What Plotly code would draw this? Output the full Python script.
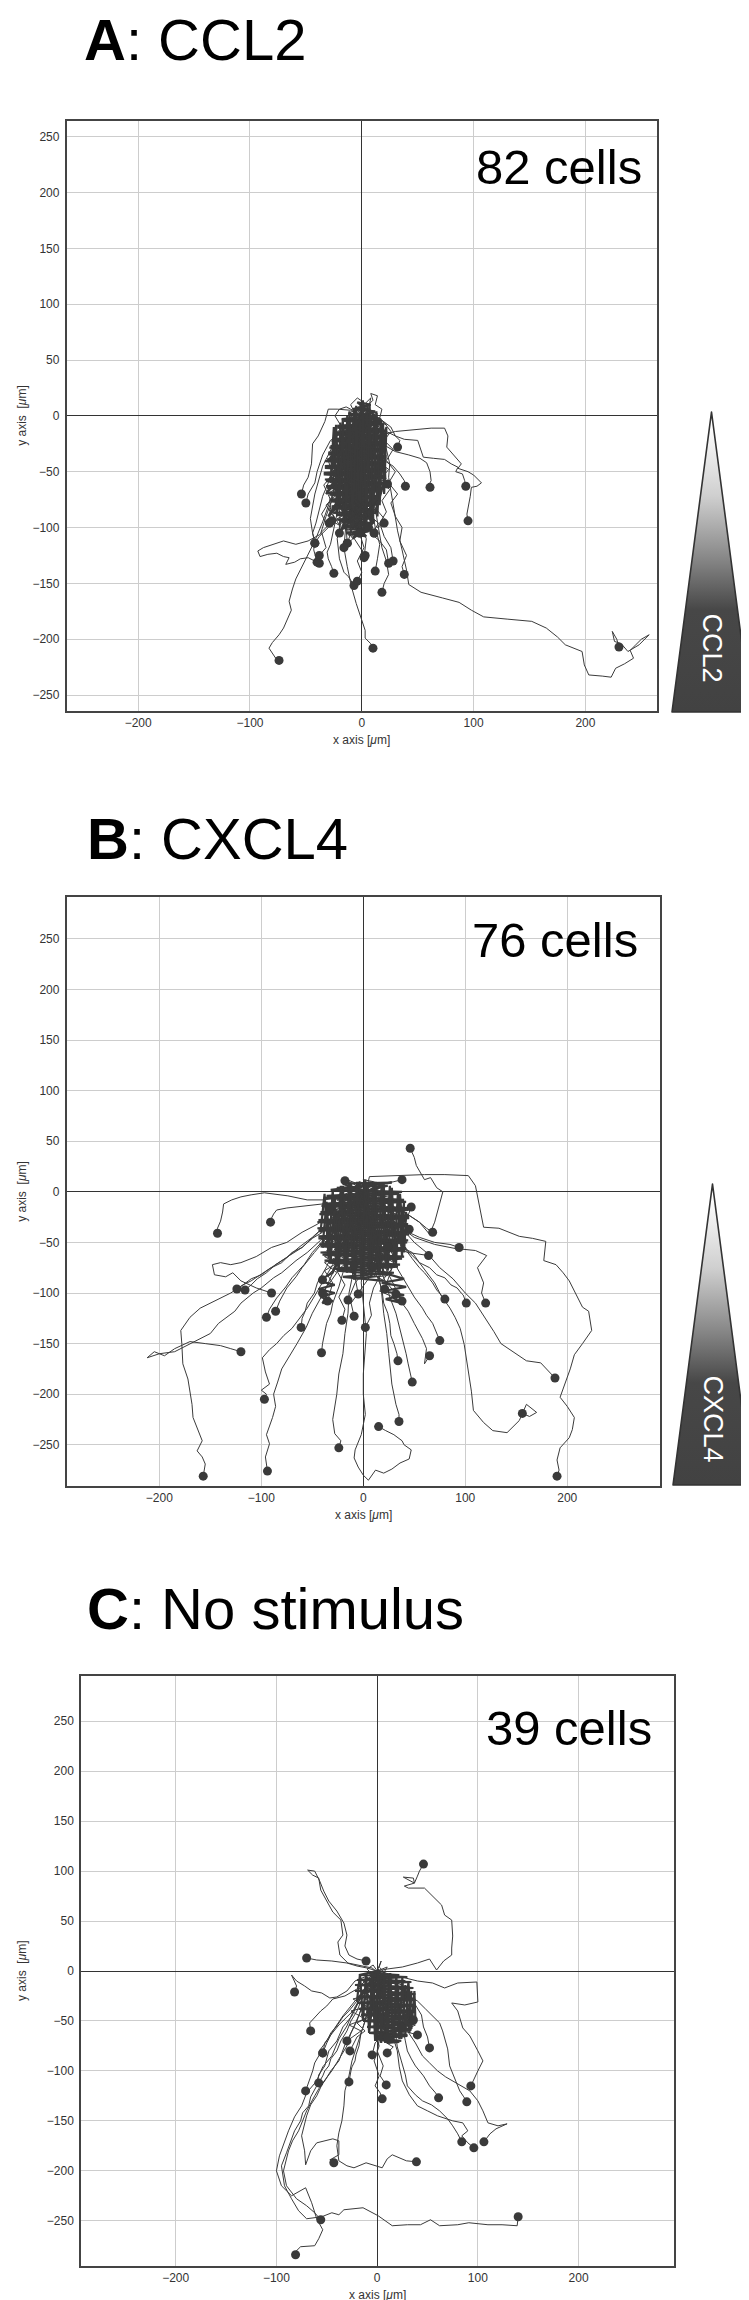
import base64
import plotly.graph_objects as go

W, H = 749, 2300

# Each track is a flat list x0, y0, x1, y1, ... in micrometres; the last point is the cell's end position.
CCL2_TRACKS = [
    [0,0, 5,-8, 12,-15, 18,-22, 22,-30, 25,-43, 24,-55, 27,-73, 29,-88, 32,-103, 36,-120, 40,-138, 42,-151, 53,-158, 72,-163, 87,-167, 98,-174, 109,-180, 130,-182, 152,-184, 165,-190, 175,-198, 182,-205, 197,-211, 199,-223, 203,-232, 215,-233, 223,-234, 227,-226, 235,-222, 243,-217, 240,-210, 245,-205, 250,-200, 257,-196, 248,-205, 238,-211, 232,-204, 226,-202, 224,-193, 228,-200, 230,-207],
    [0,0, 8,-6, 14,-12, 22,-16, 30,-14, 40,-13, 49,-12, 62,-11, 74,-11, 77,-18, 76,-28, 83,-36, 89,-43, 86,-47, 95,-50, 100,-53, 107,-60, 103,-63, 98,-64, 97,-72, 96,-78, 94,-88, 95,-94],
    [0,0, 12,-8, 22,-14, 30,-18, 38,-21, 50,-22, 53,-30, 55,-37, 64,-38, 74,-39, 80,-43, 86,-46, 84,-50, 90,-52, 92,-58, 93,-63],
    [0,0, 8,-12, 18,-25, 30,-32, 42,-35, 52,-38, 58,-42, 61,-50, 62,-58, 60,-62, 64,-66, 61,-64],
    [0,0, -3,-12, 6,-22, 12,-35, 20,-40, 28,-45, 34,-52, 38,-58, 39,-63],
    [0,0, 10,-6, 18,-4, 26,-10, 30,-18, 34,-22, 32,-28],
    [0,0, -8,-18, -14,-35, -20,-55, -28,-75, -35,-95, -42,-112, -50,-128, -56,-140, -59,-146, -62,-155, -65,-166, -63,-174, -67,-184, -70,-190, -74,-196, -80,-203, -83,-208, -80,-213, -77,-217, -74,-219],
    [0,0, -6,-20, -15,-45, -25,-70, -32,-90, -37,-106, -48,-112, -59,-115, -70,-112, -80,-115, -88,-118, -93,-121, -91,-126, -84,-124, -76,-123, -70,-126, -65,-127, -68,-133, -60,-131, -55,-128, -48,-127, -42,-130, -38,-132],
    [0,0, -4,-20, -8,-45, -10,-70, -14,-95, -16,-118, -13,-135, -9,-154, -5,-168, -1,-181, 3,-192, 3,-199, 8,-204, 10,-208],
    [0,0, -4,-15, -8,-25, -10,-40, -14,-55, -16,-70, -20,-85, -19,-98, -22,-110, -21,-120, -20,-128, -16,-140, -12,-144, -10,-147, -7,-152],
    [0,0, 6,-20, 4,-45, 10,-70, 14,-95, 18,-118, 22,-130, 24,-142, 20,-150, 18,-158],
    [0,0, -3,-25, 5,-50, 8,-75, 12,-100, 16,-115, 14,-128, 12,-139],
    [0,0, 3,-20, -4,-45, 2,-70, -2,-95, 4,-110, 2,-127],
    [0,0, -8,-20, -10,-32, -14,-45, -16,-58, -20,-70, -21,-82, -24,-95, -26,-105, -28,-115, -31,-122, -30,-128, -27,-135, -25,-141],
    [0,0, -10,-15, -22,-35, -26,-48, -30,-60, -35,-72, -38,-85, -41,-96, -44,-105, -42,-112, -43,-120, -40,-131],
    [0,0, -12,-10, -25,-25, -35,-45, -42,-70, -46,-92, -44,-105, -42,-114],
    [0,0, -10,5, -22,6, -30,6, -33,-5, -39,-18, -44,-25, -45,-43, -48,-55, -52,-62, -54,-70],
    [0,0, -8,-8, -18,-15, -28,-22, -35,-35, -40,-50, -42,-60, -48,-70, -50,-78],
    [0,0, -10,-20, -18,-40, -24,-60, -28,-80, -29,-96],
    [0,0, -5,-30, -12,-60, -10,-85, -14,-100, -13,-114],
    [0,0, -6,-5, 3,-11, -8,-16, 5,-24, -10,-30, 2,-37, -12,-44, 6,-50, -9,-57, 4,-64, -14,-70, 2,-77, -10,-84, 5,-90, -6,-97, -2,-105],
    [0,0, 5,-6, -4,-12, 9,-18, -2,-25, 12,-31, 0,-38, 14,-45, -3,-52, 10,-58, -5,-66, 13,-72, 0,-80, 11,-87, -2,-94, 8,-100, 11,-105],
    [0,0, -3,8, 4,3, -8,-4, 2,-10, -14,-18, -4,-26, -18,-33, -6,-40, -20,-48, -8,-55, -22,-62, -10,-70, -24,-78, -12,-86, -20,-95, -20,-105],
    [0,0, 8,5, 3,-4, 15,-10, 6,-18, 18,-24, 8,-32, 20,-40, 6,-48, 17,-55, 4,-62, 15,-70, 2,-78, 12,-86, 0,-92, 6,-100],
    [0,0, -10,-3, -4,-12, -16,-20, -6,-28, -22,-36, -10,-44, -26,-52, -12,-60, -28,-68, -14,-76, -30,-84, -18,-90, -29,-96],
    [0,0, 2,10, 8,16, 6,6, 12,0, 0,-8, 10,-16, -4,-22, 8,-30, -6,-38, 6,-46, -8,-54, 4,-62, -10,-70, 3,-78, -6,-85, 0,-92, -8,-100, -13,-114],
    [0,0, -5,6, -12,2, -2,-6, -16,-12, -6,-22, -20,-28, -8,-36, -18,-46, -4,-54, -16,-62, -2,-70, -14,-80, -4,-88, -18,-96, -8,-110, -16,-118],
    [0,0, 6,-4, -2,-10, 10,-14, 2,-22, 16,-28, 4,-34, 18,-42, 8,-50, 22,-56, 10,-62, 23,-61],
    [0,0, -4,-8, 6,-16, -6,-24, 8,-30, -4,-38, 10,-46, -2,-54, 12,-62, 0,-70, 14,-78, 2,-86, 12,-94, 4,-100, 11,-105],
    [0,0, -8,-10, 0,-20, -12,-28, -2,-36, -14,-44, 0,-52, -12,-60, 2,-68, -10,-76, 0,-84, -12,-92, -4,-98, -2,-105],
    [0,0, 4,-12, -6,-20, 6,-28, -8,-36, 4,-42, -10,-50, 2,-58, -12,-66, 0,-74, -14,-82, -2,-90, -16,-98, -8,-108, 3,-125],
    [0,0, 4,8, 10,14, 8,20, 14,18, 12,10, 18,6, 16,-2, 22,-8, 14,-5],
    [0,0, -6,4, -14,8, -20,6, -24,0, -18,-10, -26,-20, -22,-30, -30,-40, -26,-52, -34,-62, -28,-75, -36,-88, -30,-100, -38,-108, -42,-114],
    [0,0, 10,-2, 20,-6, 26,-14, 20,-22, 28,-30, 22,-40, 30,-50, 24,-60, 32,-70, 26,-78, 30,-90, 36,-100, 34,-112, 40,-125, 36,-135, 38,-142],
    [0,0, 6,6, 14,2, 10,-8, 18,-14, 12,-24, 22,-30, 14,-40, 24,-48, 16,-58, 25,-66, 18,-76, 22,-86, 16,-96, 20,-108, 26,-118, 28,-130],
    [0,0, -2,-15, 4,-30, -3,-45, 5,-60, -4,-75, 6,-90, -2,-105, 2,-118, -4,-130, 0,-140, -4,-148],
    [0,0, -12,-5, -18,-15, -10,-25, -24,-32, -16,-45, -28,-55, -20,-68, -32,-80, -24,-92, -36,-104, -32,-118, -38,-125],
    [0,0, 3,-5, -5,-15, 7,-22, -3,-32, 9,-40, -1,-50, 11,-58, 1,-68, 13,-76, 3,-86, 15,-96, 9,-106, 16,-112, 22,-120, 24,-132],
    [0,0, -3,4, 2,12, -4,16, -10,10, -6,2, -14,-4, -10,-14, -18,-22, -12,-34, -22,-44, -14,-56, -24,-66, -16,-78, -26,-88, -20,-98, -27,-94],
    [0,0, 8,-8, 14,-20, 6,-32, 16,-44, 8,-56, 18,-68, 10,-80, 20,-92, 14,-100, 20,-96],
]

# cells that wander densely around the origin (dark core)
CCL2_CORE = [
    [0,0, -12,2, 12,0, -18,-3, 18,-6, -22,-9, 20,-12, -24,-15, 21,-18, -26,-21, 22,-24, -28,-27, 20,-30, -30,-33, 22,-36, -31,-39, 21,-42, -33,-45, 22,-48, -34,-51, 20,-54, -33,-57, 19,-60, -32,-63, 18,-66, -31,-69, 16,-72, -29,-75, 14,-78, -27,-81, 12,-84, -25,-87, 10,-90, -22,-93, 9,-96, -18,-99, 8,-102, -14,-105, 4,-108],
    [0,0, 12,4, -8,6, 8,10, -4,12, 14,-1.5, -16,-4.5, 20,-7.5, -22,-10.5, 22,-13.5, -25,-16.5, 21,-19.5, -27,-22.5, 22,-25.5, -29,-28.5, 21,-31.5, -30,-34.5, 22,-37.5, -33,-40.5, 20,-43.5, -33,-46.5, 21,-49.5, -34,-52.5, 20,-55.5, -32,-58.5, 18,-61.5, -31,-64.5, 17,-67.5, -29,-70.5, 15,-73.5, -28,-76.5, 13,-79.5, -26,-82.5, 11,-85.5, -23,-88.5, 10,-91.5, -20,-94.5, 8,-97.5, -16,-100.5, 6,-103.5, -12,-106.5, -2,-105],
    [0,0, -28,-60, -25,-10, -22,-90, -19,-6, -16,-100, -13,0, -10,-104, -7,6, -4,-108, -1,12, 2,-106, 5,10, 8,-100, 11,2, 14,-90, 17,-4, 20,-70, 22,-10, 6,-92],
    [0,0, -30,-40, 10,-2, -32,-70, 18,-10, -30,-90, 20,-40, -20,-104, 16,-70, -8,-110, 10,-96, -26,-50, 14,-20, -18,-84, 4,-108],
    [0,0, -26,-45, -23,-8, -20,-80, -17,-3, -14,-96, -11,4, -8,-102, -5,9, -2,-106, 1,14, 4,-102, 7,10, 10,-96, 13,4, 16,-80, 19,-8, 21,-55, 12,-88],
]

CXCL4_TRACKS = [
    [0,0, 4,6, 6,15, 30,16, 60,17, 80,17, 103,16, 110,6, 113,-10, 116,-25, 118,-35, 133,-36, 153,-44, 166,-46, 179,-49, 177,-68, 189,-72, 196,-80, 202,-88, 208,-100, 215,-114, 221,-118, 223,-131, 224,-137, 215,-150, 207,-161, 203,-175, 198,-190, 193,-203, 200,-212, 207,-223, 205,-235, 202,-243, 193,-253, 190,-265, 192,-275, 190,-281],
    [0,0, -10,-12, -18,-16, -25,-25, -32,-30, -40,-40, -50,-46, -60,-55, -70,-60, -80,-70, -92,-76, -100,-82, -110,-86, -118,-92, -130,-100, -146,-108, -160,-115, -170,-124, -176,-132, -179,-137, -178,-150, -177,-170, -172,-185, -170,-197, -168,-210, -167,-223, -162,-235, -158,-246, -163,-256, -158,-262, -155,-269, -157,-281],
    [0,0, -12,-20, -20,-26, -30,-40, -42,-48, -55,-60, -66,-68, -80,-80, -88,-85, -100,-95, -108,-100, -120,-110, -126,-118, -135,-125, -142,-130, -150,-140, -170,-150, -185,-158, -200,-160, -212,-164, -205,-158, -195,-162, -185,-155, -170,-148, -155,-150, -140,-152, -130,-155, -120,-158],
    [0,0, -15,-4, -38,-8, -55,-8, -74,-4, -90,-2, -97,-1, -110,-3, -120,-5, -129,-8, -137,-12, -138,-20, -140,-29, -143,-36, -143,-41],
    [0,0, -20,-10, -40,-12, -60,-14, -75,-16, -85,-18, -88,-22, -90,-26, -91,-30],
    [0,0, -10,-30, -16,-42, -25,-60, -30,-72, -40,-90, -46,-100, -55,-115, -62,-124, -70,-135, -78,-142, -85,-150, -92,-156, -99,-164, -96,-178, -92,-190, -100,-196, -95,-200, -97,-205],
    [0,0, -15,-40, -20,-58, -30,-80, -38,-98, -50,-120, -56,-134, -65,-150, -72,-162, -80,-175, -84,-188, -88,-200, -86,-212, -89,-223, -95,-240, -92,-249, -96,-262, -94,-276],
    [0,0, -5,-40, -8,-60, -10,-80, -14,-100, -15,-120, -18,-140, -20,-160, -24,-180, -26,-200, -30,-225, -28,-239, -22,-246, -24,-253],
    [0,0, 2,-40, -2,-90, 3,-140, 0,-180, 0,-200, 2,-220, -2,-240, -8,-255, -9,-263, -5,-272, 0,-280, 5,-285, 12,-275, 20,-278, 28,-274, 36,-268, 45,-264, 47,-255, 40,-250, 38,-246, 30,-240, 22,-236, 15,-232],
    [0,0, 10,-40, 12,-60, 15,-80, 18,-100, 20,-120, 23,-140, 25,-160, 28,-190, 32,-210, 35,-220, 35,-227],
    [0,0, 20,-30, 30,-40, 45,-60, 55,-70, 70,-90, 76,-102, 85,-115, 90,-124, 95,-135, 99,-151, 103,-175, 106,-197, 108,-216, 118,-228, 127,-236, 141,-238, 153,-226, 160,-210, 170,-218, 163,-222, 156,-219],
    [0,0, 25,-25, 36,-34, 50,-50, 62,-60, 75,-75, 88,-86, 100,-100, 110,-110, 120,-125, 128,-138, 135,-150, 150,-160, 160,-167, 174,-169, 181,-177, 188,-184],
    [0,0, 20,-10, 40,-20, 55,-30, 65,-42, 70,-30, 75,-12, 78,0, 72,4, 66,14, 60,12, 57,17, 52,26, 50,34, 46,43],
    [0,0, 30,-30, 50,-45, 70,-52, 90,-56, 110,-58, 121,-63, 112,-75, 118,-90, 116,-100, 120,-110],
    [0,0, 20,-20, 40,-38, 55,-45, 70,-50, 85,-52, 94,-55],
    [0,0, 20,-10, 40,-20, 55,-30, 62,-36, 68,-40],
    [0,0, 12,-22, 22,-35, 30,-42, 38,-55, 48,-60, 55,-70, 65,-75, 72,-82, 80,-85, 86,-92, 92,-95, 96,-100, 98,-102, 101,-110],
    [0,0, 8,-14, 20,-30, 26,-40, 34,-48, 40,-55, 48,-66, 55,-75, 60,-80, 68,-90, 72,-97, 75,-100, 80,-106],
    [0,0, 6,-18, 15,-40, 20,-52, 30,-70, 36,-80, 45,-95, 50,-104, 58,-115, 62,-122, 68,-130, 72,-140, 75,-147],
    [0,0, 5,-20, 12,-40, 16,-62, 24,-80, 30,-92, 38,-110, 44,-118, 50,-130, 54,-138, 58,-145, 62,-155, 60,-170, 65,-162],
    [0,0, 2,-20, 5,-40, 10,-58, 12,-80, 18,-95, 20,-110, 24,-120, 26,-130, 27,-142, 30,-150, 33,-160, 34,-167],
    [0,0, 4,-25, 10,-50, 14,-70, 22,-90, 26,-104, 32,-120, 36,-135, 40,-150, 42,-160, 44,-170, 46,-180, 48,-188],
    [0,0, -8,-15, -15,-30, -20,-44, -30,-60, -36,-74, -45,-90, -48,-100, -55,-110, -57,-118, -60,-125, -61,-134],
    [0,0, -4,-20, -10,-40, -14,-58, -20,-80, -24,-94, -30,-110, -32,-120, -36,-130, -38,-140, -40,-150, -41,-159],
    [0,0, -10,-12, -20,-25, -28,-36, -40,-50, -48,-60, -60,-75, -66,-84, -75,-95, -79,-102, -82,-108, -86,-118],
    [0,0, -12,-16, -25,-30, -36,-44, -50,-60, -58,-72, -70,-85, -76,-94, -85,-105, -88,-110, -92,-116, -95,-124],
    [0,0, -14,-14, -30,-30, -44,-40, -60,-55, -74,-64, -90,-75, -100,-82, -110,-88, -118,-92, -124,-96],
    [0,0, -12,-8, -25,-20, -38,-34, -50,-45, -62,-54, -75,-65, -86,-72, -95,-80, -104,-86, -110,-92, -116,-97],
    [0,0, -30,-20, -45,-32, -60,-40, -75,-50, -90,-55, -105,-64, -120,-70, -130,-72, -140,-70, -148,-72, -146,-82, -135,-84, -128,-80, -120,-88, -105,-95, -90,-100],
    [0,0, -5,5, -10,8, -14,10, -18,11],
    [0,0, 10,4, 20,8, 30,10, 38,12],
    [0,0, -10,-5, 4,-10, -16,-14, 8,-20, -20,-26, 12,-30, -24,-36, 6,-42, -18,-48, 14,-54, -10,-60, 20,-64, -6,-70, 10,-74],
    [0,0, 12,4, -6,-2, 20,-8, -12,-12, 26,-18, -4,-24, 30,-30, 0,-36, 34,-42, 4,-48, 28,-54, 8,-60, 30,-64, 24,-54],
    [0,0, -14,6, -4,-4, -26,-8, -10,-16, -32,-22, -14,-30, -36,-36, -18,-44, -40,-50, -20,-58, -38,-64, -24,-72, -40,-87],
    [0,0, 6,10, 18,8, 10,-2, 28,-6, 14,-14, 34,-20, 18,-28, 38,-34, 20,-42, 40,-48, 22,-56, 36,-46, 45,-37],
    [0,0, -6,8, -16,12, -8,2, -22,-4, -6,-12, -28,-18, -10,-26, -30,-34, -12,-42, -32,-50, -14,-58, -28,-66, -12,-72, -9,-73],
    [0,0, 4,-8, -8,-14, 10,-20, -6,-28, 14,-34, -4,-42, 18,-48, 0,-56, 22,-62, 6,-70, 24,-54],
    [0,0, -10,4, -20,2, -26,-6, -33,-17],
    [0,0, 16,-2, 4,-10, 22,-14, 8,-22, 30,-26, 12,-34, 32,-40, 14,-48, 34,-54, 16,-62, 30,-70, 21,-96],
    [0,0, -4,10, 8,6, -8,-2, 6,-10, -12,-16, 2,-24, -16,-30, 0,-38, -18,-44, 2,-52, -16,-58, 4,-66, -10,-74, -5,-101],
    [0,0, 10,-6, -2,-14, 16,-18, 2,-26, 20,-32, 4,-40, 24,-46, 6,-54, 26,-60, 10,-68, 28,-76, 20,-86, 32,-101],
    [0,0, -8,-6, -20,-10, -10,-20, -26,-26, -14,-34, -34,-40, -20,-50, -36,-58, -22,-68, -38,-78, -30,-90, -35,-108],
    [0,0, 6,4, 0,12, 10,10, 20,4, 14,-4, 28,-10, 20,-18, 36,-24, 26,-30, 40,-34, 47,-15],
    [0,0, -4,-10, 8,-18, -2,-28, 12,-36, 0,-46, 16,-54, 4,-64, 20,-72, 10,-82, 24,-90, 16,-98, 38,-108],
    [0,0, -12,-2, -4,-8, -18,-14, -6,-22, -24,-28, -8,-36, -26,-44, -10,-52, -30,-60, -14,-68, -26,-78, -18,-92, -24,-104, -18,-116, -21,-127],
    [0,0, 8,-2, 2,-12, 14,-16, 6,-26, 18,-30, 8,-40, 22,-44, 10,-54, 24,-58, 12,-68, 18,-80, 10,-95, 6,-110, 8,-122, 2,-134],
    [0,0, 4,8, -8,6, -4,-2, -14,-8, 0,-14, -18,-20, 2,-28, -20,-34, 4,-42, -18,-48, 6,-56, -14,-62, 8,-70, -8,-90, -15,-107],
    [0,0, 18,6, 8,-4, 26,-8, 12,-16, 30,-22, 16,-30, 38,-34, 20,-42, 42,-46, 26,-54, 44,-60, 64,-63],
    [0,0, -6,-4, 6,-8, -8,-16, 8,-22, -10,-30, 10,-36, -12,-44, 12,-50, -8,-58, 14,-64, -4,-70, 12,-76, -2,-96, -12,-110, -9,-123],
    [0,0, -16,2, -6,-6, -24,-10, -8,-18, -28,-22, -10,-30, -30,-36, -12,-44, -30,-52, -16,-60, -38,-70, -26,-80, -40,-100],
]

CXCL4_CORE = [
    [0,0, -20,8, 28,9, -32,2, 38,0, -36,-4, 40,-8, -40,-12, 44,-16, -42,-20, 45,-24, -44,-28, 44,-32, -45,-36, 45,-40, -44,-44, 44,-48, -43,-52, 42,-56, -42,-60, 40,-64, -38,-68, 36,-72, -30,-76, 30,-80, -20,-84, 20,-88],
    [0,0, 24,6, -26,4, 34,-2, -38,-6, 42,-10, -41,-14, 44,-18, -43,-22, 45,-26, -45,-30, 44,-34, -44,-38, 45,-42, -44,-46, 43,-50, -42,-54, 41,-58, -40,-62, 38,-66, -34,-70, 34,-74, -26,-78, 24,-82, -10,-86],
    [0,0, -40,-55, -36,-10, -32,-70, -28,-4, -24,-78, -20,6, -16,-80, -12,8, -8,-84, -4,10, 0,-86, 4,10, 8,-84, 12,10, 16,-80, 20,8, 24,-78, 28,4, 32,-72, 36,-2, 40,-60, 42,-20, 30,-64],
    [0,0, -42,-40, -38,-2, -34,-66, -30,2, -26,-74, -22,6, -18,-78, -14,8, -10,-82, -6,10, -2,-84, 2,12, 6,-82, 10,10, 14,-80, 18,8, 22,-76, 26,6, 30,-70, 34,0, 38,-64, 40,-10, 35,-50],
    [0,0, 20,-80, 40,-86, 18,-90, 42,-94, 20,-98, 40,-102, 22,-106, 38,-110, 28,-104],
    [0,0, -30,-80, -44,-88, -28,-92, -44,-96, -28,-100, -42,-104, -30,-108, -40,-110, -35,-100],
]

NOSTIM_TRACKS = [
    [0,0, 10,2, 25,4, 40,8, 52,12, 59,1, 66,10, 74,16, 74,23, 75,35, 74,51, 67,56, 64,66, 58,72, 54,76, 47,83, 31,83, 27,85, 37,88, 36,93, 26,94, 37,88, 40,95, 42,100, 46,107],
    [0,0, 5,-5, -5,3, -15,5, -29,8, -37,16, -39,29, -34,36, -36,51, -44,59, -52,73, -56,81, -58,93, -64,96, -69,101, -62,100, -57,90, -53,80, -48,70, -40,60, -33,48, -30,36, -32,25, -28,16, -20,12, -11,10],
    [0,0, -10,3, -20,5, -30,8, -45,10, -60,11, -70,13],
    [0,0, 20,-5, 40,-10, 55,-12, 67,-17, 80,-12, 99,-11, 100,-31, 87,-34, 74,-32, 80,-40, 85,-57, 92,-65, 100,-80, 105,-90, 100,-100, 96,-108, 93,-115],
    [0,0, -10,-20, -18,-30, -25,-45, -34,-56, -40,-70, -48,-80, -52,-95, -58,-104, -60,-115, -66,-126, -68,-135, -74,-142, -76,-150, -82,-160, -86,-170, -90,-182, -95,-195, -92,-215, -85,-228, -78,-240, -70,-248, -55,-246, -45,-242, -38,-244, -33,-239, -14,-237, 1,-245, 15,-255, 30,-254, 43,-254, 53,-249, 62,-255, 80,-254, 91,-252, 110,-254, 124,-254, 139,-255, 140,-246],
    [0,0, -15,-25, -22,-36, -30,-55, -38,-68, -45,-85, -54,-96, -60,-110, -70,-122, -75,-135, -82,-146, -88,-160, -92,-172, -97,-185, -100,-200, -95,-215, -85,-225, -71,-217, -65,-232, -60,-248, -54,-259, -58,-268, -62,-275, -76,-276, -81,-281, -84,-286, -81,-284],
    [0,0, -12,-30, -18,-44, -25,-60, -32,-74, -38,-90, -46,-100, -52,-110, -58,-118, -62,-125, -66,-132, -70,-140, -74,-150, -78,-160, -84,-170, -88,-180, -93,-200, -90,-215, -80,-228, -70,-235, -62,-242, -56,-249],
    [0,0, -10,-25, -16,-38, -20,-50, -26,-62, -30,-75, -38,-88, -45,-100, -54,-112, -60,-125, -66,-134, -70,-145, -75,-165, -72,-180, -71,-194, -66,-180, -60,-172, -52,-170, -44,-168, -38,-170, -38,-184, -45,-188, -47,-189, -43,-192],
    [0,0, -5,-30, -10,-44, -15,-60, -20,-75, -25,-90, -28,-105, -32,-120, -33,-135, -35,-150, -38,-162, -40,-175, -38,-190, -30,-195, -23,-197, -11,-192, 5,-197, 10,-188, 15,-184, 22,-187, 29,-190, 39,-191],
    [0,0, 15,-30, 22,-44, 30,-60, 38,-72, 45,-85, 52,-92, 60,-100, 68,-106, 75,-110, 84,-116, 92,-120, 100,-130, 105,-140, 110,-152, 120,-155, 129,-153, 118,-158, 112,-163, 106,-171],
    [0,0, 10,-40, 14,-60, 20,-80, 22,-96, 25,-110, 32,-124, 40,-135, 50,-140, 60,-145, 75,-150, 85,-152, 90,-160, 84,-165, 90,-172, 96,-177],
    [0,0, 8,-30, 12,-44, 18,-60, 20,-76, 24,-90, 28,-104, 30,-115, 38,-124, 45,-130, 54,-134, 62,-140, 70,-148, 75,-155, 80,-163, 84,-171],
    [0,0, -6,-6, 4,-12, -8,-18, 6,-24, -6,-30, 8,-36, -4,-42, 10,-48, -2,-54, 12,-60, 2,-66, 5,-66],
    [0,0, 6,-4, -2,-10, 12,-14, 2,-22, 16,-26, 4,-34, 20,-38, 8,-46, 24,-50, 14,-56, 24,-56],
    [0,0, -4,6, -10,2, -2,-6, -14,-10, -4,-18, -16,-24, -6,-32, -18,-38, -8,-46, -20,-52, -12,-60, -20,-66, -27,-80],
    [0,0, 10,4, 4,-6, 18,-10, 8,-18, 22,-24, 10,-32, 26,-36, 14,-44, 30,-48, 18,-54, 36,-49],
    [0,0, -8,-2, 2,-10, -10,-14, 4,-22, -8,-28, 6,-36, -6,-42, 8,-50, -4,-56, 6,-64, -2,-72, -5,-84],
    [0,0, 4,10, 2,4, 8,-2, -2,-8, 12,-12, 0,-20, 14,-26, 2,-32, 16,-38, 4,-46, 18,-52, 8,-58, 20,-62, 12,-68],
    [0,0, 14,-6, 6,-14, 24,-18, 10,-26, 28,-30, 14,-38, 34,-42, 18,-50, 38,-54, 26,-60, 40,-64],
    [0,0, -12,-4, -4,-12, -20,-16, -8,-24, -24,-28, -10,-36, -26,-40, -12,-48, -28,-54, -16,-60, -30,-70],
    [0,0, 2,-8, -6,-14, 8,-20, -4,-28, 10,-34, 0,-42, 12,-48, 2,-56, 14,-62, 6,-70, 16,-76, 10,-82],
    [0,0, -3,-4, 5,-10, -5,-16, 7,-20, -3,-26, 9,-32, -1,-38, 11,-44, 1,-50, 13,-56, 3,-60, 10,-66],
    [0,0, -10,-5, -22,-10, -30,-20, -40,-26, -47,-27, -55,-22, -65,-20, -72,-15, -80,-10, -85,-4, -80,-15, -82,-21],
    [0,0, -12,-10, -20,-18, -32,-25, -44,-28, -50,-35, -56,-40, -62,-46, -67,-52, -66,-60],
    [0,0, -8,-14, -16,-26, -22,-38, -30,-46, -38,-54, -46,-64, -52,-72, -54,-82],
    [0,0, 12,-8, 24,-14, 32,-24, 38,-34, 44,-44, 46,-56, 50,-66, 52,-77],
    [0,0, 10,-20, 14,-32, 18,-40, 22,-52, 26,-60, 28,-70, 30,-80, 34,-88, 38,-95, 46,-105, 52,-115, 58,-122, 61,-127],
    [0,0, 20,-15, 30,-24, 40,-30, 48,-38, 55,-45, 62,-52, 65,-60, 68,-70, 70,-78, 72,-95, 78,-110, 82,-120, 86,-126, 89,-131],
    [0,0, 2,-20, -2,-40, 4,-60, 0,-80, 6,-95, 3,-105, 9,-114],
    [0,0, -4,-30, 2,-45, -2,-60, 2,-75, -3,-90, 2,-105, -2,-115, 3,-122, 5,-128],
    [0,0, -4,-12, -6,-25, -10,-38, -12,-50, -16,-62, -18,-75, -21,-84, -22,-90, -25,-96, -26,-100, -28,-111],
    [0,0, -6,-12, -10,-20, -16,-30, -20,-40, -26,-50, -30,-60, -36,-70, -40,-80, -46,-88, -48,-95, -52,-100, -54,-105, -58,-112],
    [0,0, -8,-12, -14,-20, -20,-30, -28,-40, -34,-46, -40,-55, -46,-62, -50,-70, -56,-78, -58,-85, -62,-92, -64,-100, -66,-106, -68,-112, -71,-120],
    [0,0, -10,-15, -22,-30, -34,-45, -44,-60, -50,-72, -54,-82],
]

NOSTIM_CORE = [
    [0,0, -10,-2, 22,-4, -12,-8, 28,-10, -12,-14, 32,-16, -12,-20, 34,-22, -10,-26, 36,-28, -10,-32, 36,-34, -8,-38, 38,-40, -8,-44, 38,-46, -6,-50, 36,-52, -4,-56, 34,-58, -2,-62, 30,-64, 2,-68, 24,-70],
    [0,0, -8,-60, -4,-6, 0,-70, 4,-4, 8,-72, 12,-6, 16,-70, 20,-10, 24,-68, 28,-14, 32,-62, 34,-20, 30,-56],
    [0,0, -18,-4, 30,-6, -20,-9, 34,-11, -22,-14, 36,-17, -22,-20, 38,-23, -20,-26, 38,-29, -20,-32, 38,-35, -18,-38, 38,-41, -16,-44, 38,-47, -14,-50, 36,-53, -10,-56, 34,-59, -8,-62, 30,-65, -2,-68, 22,-71, 10,-72],
    [0,0, -20,-30, -17,-3, -14,-50, -11,-2, -8,-62, -5,0, -2,-70, 1,2, 4,-72, 7,0, 10,-72, 13,-2, 16,-70, 19,-4, 22,-68, 25,-6, 28,-64, 31,-10, 34,-58, 37,-20, 38,-50],
]

X_TICKS = [-200, -100, 0, 100, 200]
Y_TICKS = [-250, -200, -150, -100, -50, 0, 50, 100, 150, 200, 250]

panels = [
    dict(tracks=CCL2_TRACKS, core=CCL2_CORE, title="<b>A</b>: CCL2", count="82 cells", wedge="CCL2",
         xr=(-264, 264), yr=(-264, 264), box=(58.6, 649.0, 113.0, 702.7),
         title_xy=(74, 32), count_xy=(636, 159), wedge_box=(663, 744, 403, 705)),
    dict(tracks=CXCL4_TRACKS, core=CXCL4_CORE, title="<b>B</b>: CXCL4", count="76 cells", wedge="CXCL4",
         xr=(-291, 291), yr=(-291, 291), box=(58.6, 652.0, 889.3, 1478.3),
         title_xy=(77, 830), count_xy=(632, 932), wedge_box=(664, 745, 1175, 1478)),
    dict(tracks=NOSTIM_TRACKS, core=NOSTIM_CORE, title="<b>C</b>: No stimulus", count="39 cells", wedge=None,
         xr=(-294, 295), yr=(-295, 295), box=(73.0, 666.3, 1668.3, 2257.7),
         title_xy=(77, 1600), count_xy=(646, 1720), wedge_box=None),
]

LINE = "#3b3b3b"
FONT = "Liberation Sans, Arial, sans-serif"


def wedge_svg(w, h):
    svg = (
        f'<svg xmlns="http://www.w3.org/2000/svg" width="{w}" height="{h}" viewBox="0 0 {w} {h}" preserveAspectRatio="none">'
        '<defs><linearGradient id="g" x1="0" y1="0" x2="0" y2="1">'
        '<stop offset="0.04" stop-color="#ffffff"/><stop offset="0.28" stop-color="#cfcfcf"/>'
        '<stop offset="0.48" stop-color="#8a8a8a"/><stop offset="0.66" stop-color="#474747"/>'
        '<stop offset="1" stop-color="#424242"/></linearGradient></defs>'
        f'<polygon points="{w / 2},1 {w - 1},{h - 1} 1,{h - 1}" fill="url(#g)" stroke="#333333" stroke-width="1.6" stroke-linejoin="round"/>'
        '</svg>'
    )
    return "data:image/svg+xml;base64," + base64.b64encode(svg.encode()).decode()


def flatten(tracks):
    xs, ys = [], []
    for t in tracks:
        xs += t[0::2] + [None]
        ys += t[1::2] + [None]
    return xs, ys


fig = go.Figure()
annotations = []
images = []

for i, p in enumerate(panels, start=1):
    sx = "" if i == 1 else str(i)
    xs, ys = flatten(p["tracks"])
    cxs, cys = flatten(p["core"])
    ex = [t[-2] for t in p["tracks"]]
    ey = [t[-1] for t in p["tracks"]]
    fig.add_trace(go.Scatter(x=cxs, y=cys, mode="lines", xaxis="x" + sx, yaxis="y" + sx,
                             line=dict(color=LINE, width=2.2), hoverinfo="skip", showlegend=False))
    fig.add_trace(go.Scatter(x=xs, y=ys, mode="lines", xaxis="x" + sx, yaxis="y" + sx,
                             line=dict(color=LINE, width=1), hoverinfo="skip", showlegend=False))
    fig.add_trace(go.Scatter(x=ex, y=ey, mode="markers", xaxis="x" + sx, yaxis="y" + sx,
                             marker=dict(color="#3a3a3a", size=9, symbol="circle"), showlegend=False))

    l, r, t_, b = p["box"]
    common = dict(showgrid=True, gridcolor="#cdcdcd", gridwidth=1, zeroline=True, zerolinecolor="#333333",
                  zerolinewidth=1, showline=True, linecolor="#444444", linewidth=1.5, mirror=True, ticks="",
                  tickfont=dict(family=FONT, size=12, color="#333333"), fixedrange=True)
    fig.update_layout(**{
        "xaxis" + sx: dict(domain=[l / W, r / W], range=list(p["xr"]), tickvals=X_TICKS,
                           anchor="y" + sx, **common),
        "yaxis" + sx: dict(domain=[1 - b / H, 1 - t_ / H], range=list(p["yr"]), tickvals=Y_TICKS,
                           anchor="x" + sx, ticklabelstandoff=3, **common),
    })

    # panel heading and cell count
    tx, ty = p["title_xy"]
    annotations.append(dict(text=p["title"], x=tx / W, y=1 - ty / H, xref="paper", yref="paper",
                            xanchor="left", yanchor="middle", showarrow=False,
                            font=dict(family=FONT, size=58, color="black")))
    cx, cy = p["count_xy"]
    annotations.append(dict(text=p["count"], x=cx / W, y=1 - cy / H, xref="paper", yref="paper",
                            xanchor="right", yanchor="middle", showarrow=False,
                            font=dict(family=FONT, size=49, color="black")))
    # axis titles
    x0px = l + (0 - p["xr"][0]) / (p["xr"][1] - p["xr"][0]) * (r - l)
    annotations.append(dict(text="x axis [<i>μ</i>m]", x=x0px / W, y=1 - (b + 29) / H, xref="paper",
                            yref="paper", xanchor="center", yanchor="middle", showarrow=False,
                            font=dict(family=FONT, size=12, color="#333333")))
    annotations.append(dict(text="y axis  [<i>μ</i>m]", x=14 / W, y=1 - (t_ + b) / 2 / H, xref="paper",
                            yref="paper", xanchor="center", yanchor="middle", textangle=-90, showarrow=False,
                            font=dict(family=FONT, size=12, color="#333333")))

    if p["wedge"]:
        wl, wr, wt, wb = p["wedge_box"]
        images.append(dict(source=wedge_svg(wr - wl, wb - wt), xref="paper", yref="paper",
                           x=wl / W, y=1 - wt / H, sizex=(wr - wl) / W, sizey=(wb - wt) / H,
                           xanchor="left", yanchor="top", sizing="stretch", layer="above"))
        annotations.append(dict(text=p["wedge"], x=(wl + wr) / 2 / W, y=1 - (wb - 57 - len(p["wedge"]) * 2) / H,
                                xref="paper", yref="paper", xanchor="center", yanchor="middle",
                                textangle=90, showarrow=False,
                                font=dict(family=FONT, size=27, color="white")))

fig.update_layout(width=W, height=H, margin=dict(l=0, r=0, t=0, b=0),
                  paper_bgcolor="white", plot_bgcolor="white",
                  annotations=annotations, images=images)

fig.write_html("out.html")
